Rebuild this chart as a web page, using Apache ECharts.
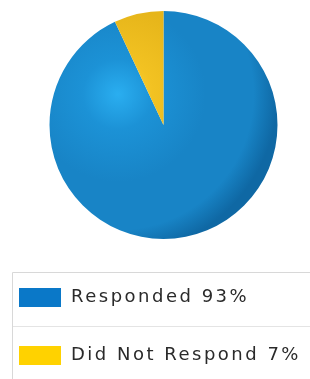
<!DOCTYPE html>
<html>
<head>
<meta charset="utf-8">
<script src="https://cdn.jsdelivr.net/npm/echarts@6/dist/echarts.min.js"></script>
<style>
  html, body { margin: 0; padding: 0; background: #fff; }
  #chart { width: 310px; height: 379px; }
</style>
</head>
<body>
<div id="chart"></div>
<script>
  const categories = ["Responded", "Did Not Respond"];
  const values = [93, 7];
  const legendColors = ["#0a78c8", "#ffd200"];

  // pie geometry (px)
  const cx = 163.5, cy = 125, radius = 114;

  function shade(light, mid, mid2, dark) {
    return {
      type: "radial",
      x: cx - radius * 0.4, y: cy - radius * 0.27, r: radius * 1.4,
      global: true,
      colorStops: [
        { offset: 0, color: light },
        { offset: 0.22, color: mid },
        { offset: 0.55, color: mid2 },
        { offset: 0.85, color: mid2 },
        { offset: 1, color: dark }
      ]
    };
  }
  const sliceColors = [
    shade("#2aaef0", "#1c92d6", "#1884c6", "#0f68a4"),
    shade("#ffd63a", "#f2c222", "#e6b51a", "#b88e0a")
  ];

  const total = values.reduce((a, b) => a + b, 0);
  const pct = {};
  categories.forEach((c, i) => { pct[c] = Math.round(values[i] / total * 100); });

  const chart = echarts.init(document.getElementById("chart"), null, { renderer: "canvas" });
  chart.setOption({
    animation: false,
    graphic: [
      {
        type: "rect",
        shape: { x: 12.5, y: 272.5, width: 310, height: 120 },
        style: { fill: "#fff", stroke: "#d8d8d8", lineWidth: 1 },
        z: -1
      },
      {
        type: "line",
        shape: { x1: 13, y1: 326.5, x2: 310, y2: 326.5 },
        style: { stroke: "#e4e4e4", lineWidth: 1 },
        z: -1
      }
    ],
    legend: {
      orient: "vertical",
      left: 14,
      top: 283,
      icon: "rect",
      itemWidth: 42,
      itemHeight: 19,
      itemGap: 39,
      selectedMode: false,
      data: categories.map((name, i) => ({ name, itemStyle: { color: legendColors[i] } })),
      formatter: (name) => name + " " + pct[name] + "%",
      textStyle: {
        fontFamily: "DejaVu Sans",
        fontSize: 18,
        lineHeight: 19,
        color: "#2a2a2a",
        padding: [0, 0, 0, 5]
      }
    },
    series: [{
      type: "pie",
      center: [cx, cy],
      radius: radius,
      startAngle: 90,
      clockwise: true,
      label: { show: false },
      labelLine: { show: false },
      emphasis: { disabled: true },
      itemStyle: { borderWidth: 0 },
      data: categories.map((name, i) => ({
        name,
        value: values[i],
        itemStyle: { color: sliceColors[i] }
      }))
    }]
  });

  // the legend text in the original is widely tracked
  const zr = chart.getZr();
  zr.painter.eachLayer((layer) => {
    if (layer.ctx) {
      layer.ctx.letterSpacing = "2.5px";
    }
  });
  zr.painter.refresh(true);
</script>
</body>
</html>
